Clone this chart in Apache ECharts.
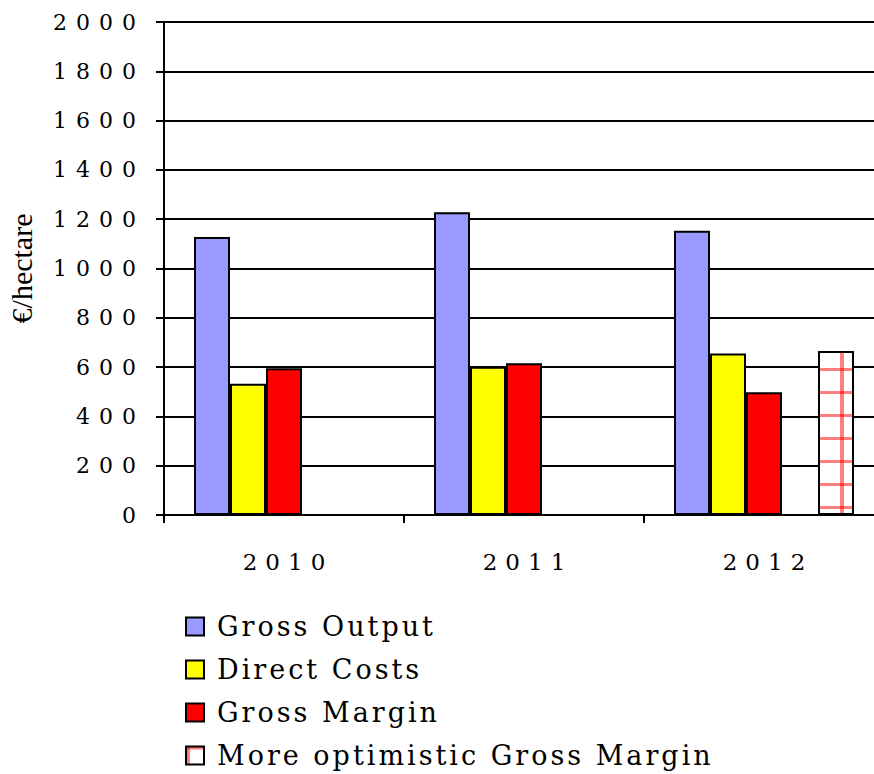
<!DOCTYPE html>
<html>
<head>
<meta charset="utf-8">
<script src="https://cdn.jsdelivr.net/npm/echarts@6/dist/echarts.min.js"></script>
<style>
html,body{margin:0;padding:0;background:#fff;}
#chart{width:874px;height:774px;}
</style>
</head>
<body>
<div id="chart"></div>
<script>
const categories = ['2010', '2011', '2012'];
const grossOutput = [1128, 1228, 1153];
const directCosts = [532, 601, 655];
const grossMargin = [595, 616, 498];
const optimisticMargin = ['-', '-', 665];
const yTicks = [0, 200, 400, 600, 800, 1000, 1200, 1400, 1600, 1800, 2000];
const seriesNames = ['Gross Output', 'Direct Costs', 'Gross Margin', 'More optimistic Gross Margin'];

// hatch pattern for the optimistic bar
const pc = document.createElement('canvas');
pc.width = 24; pc.height = 23;
const g = pc.getContext('2d');
g.fillStyle = '#fff'; g.fillRect(0, 0, 24, 23);
g.fillStyle = 'rgba(255,0,0,0.5)';
g.fillRect(0, 0, 24, 3);
g.fillRect(0, 0, 4, 23);
const patternURL = pc.toDataURL();

const chart = echarts.init(document.getElementById('chart'), null, {renderer: 'svg'});
const serif = 'DejaVu Serif';
const border = {borderColor: '#000', borderWidth: 2};

chart.setOption({
  backgroundColor: '#fff',
  animation: false,
  grid: {left: 164, top: 22, width: 720, height: 493, containLabel: false, outerBoundsMode: 'none'},
  legend: {
    orient: 'vertical', left: 185, top: 613, itemGap: 16, padding: 0, height: 160,
    itemWidth: 18, itemHeight: 18, icon: 'rect',
    data: seriesNames,
    textStyle: {fontFamily: serif, fontSize: 27, color: '#000', lineHeight: 27, padding: [0, 0, 0, 8]}
  },
  xAxis: {
    type: 'category', data: categories,
    axisLine: {lineStyle: {color: '#000', width: 2}},
    axisTick: {show: true, length: 8, lineStyle: {color: '#000', width: 2}},
    axisLabel: {fontFamily: serif, fontSize: 23, color: '#000', margin: 35, padding: [0, 0, 0, 8]}
  },
  yAxis: {
    type: 'value', min: yTicks[0], max: yTicks[yTicks.length - 1], interval: 200,
    name: '€/hectare', nameLocation: 'middle', nameRotate: 90, nameGap: 128,
    nameTextStyle: {fontFamily: 'Liberation Serif', fontSize: 30, color: '#000'},
    axisLine: {show: true, lineStyle: {color: '#000', width: 2}},
    axisTick: {show: true, length: 8, lineStyle: {color: '#000', width: 2}},
    axisLabel: {fontFamily: serif, fontSize: 22, color: '#000', margin: 19, formatter: v => String(v)},
    splitLine: {lineStyle: {color: '#000', width: 2}}
  },
  series: [
    {name: seriesNames[0], type: 'bar', data: grossOutput, barGap: '0%', barCategoryGap: '25%', itemStyle: Object.assign({color: '#9999ff'}, border)},
    {name: seriesNames[1], type: 'bar', data: directCosts, itemStyle: Object.assign({color: '#ffff00'}, border)},
    {name: seriesNames[2], type: 'bar', data: grossMargin, itemStyle: Object.assign({color: '#ff0000'}, border)},
    {name: 'blank', type: 'bar', data: ['-', '-', '-']},
    {name: seriesNames[3], type: 'bar', data: optimisticMargin,
     itemStyle: Object.assign({color: {image: patternURL, repeat: 'repeat', imageWidth: 24, imageHeight: 23}}, border)}
  ]
});

function spaceText() {
  const texts = document.querySelectorAll('#chart text');
  texts.forEach(t => {
    const s = t.textContent;
    let ls = 0;
    if (categories.indexOf(s) >= 0) ls = 8;
    else if (/^\d+$/.test(s)) ls = 9;
    else if (seriesNames.indexOf(s) >= 0) ls = 3;
    if (ls) t.setAttribute('letter-spacing', ls);
  });
}
spaceText();
chart.on('finished', spaceText);
</script>
</body>
</html>
